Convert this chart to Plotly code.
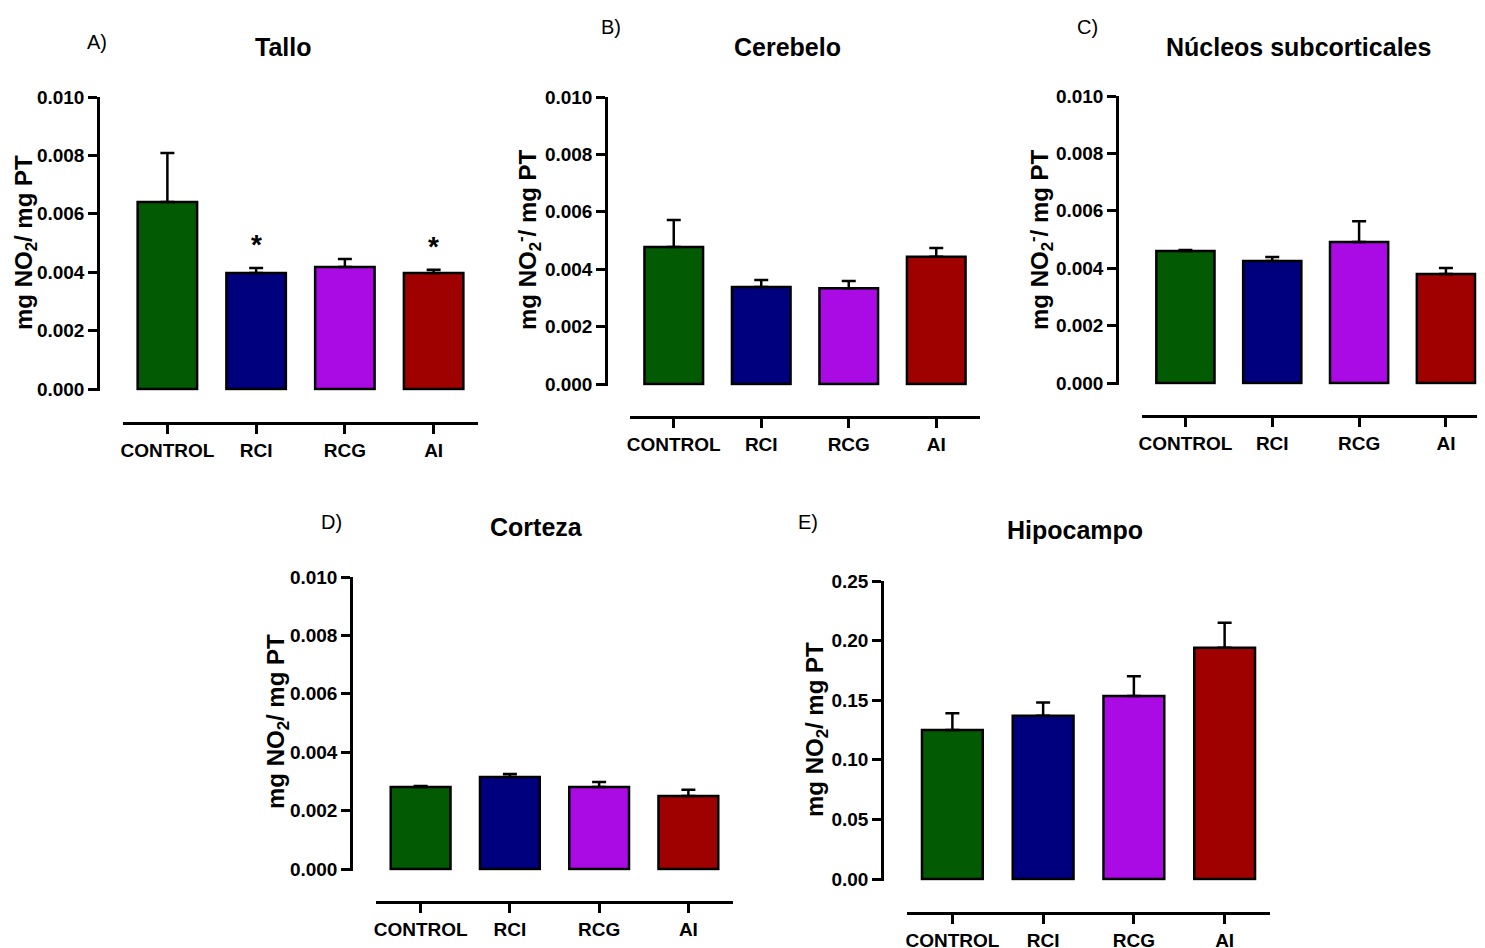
import plotly.graph_objects as go

W, H = 1485, 948
OFF = 8  # page body margin in the browser

categories = ["CONTROL", "RCI", "RCG", "AI"]
colors = ["#025A02", "#00007E", "#AA0AE3", "#9F0000"]

# Panel values (mean) and upper error (SEM)
tallo_mean = [0.00640, 0.00397, 0.00418, 0.00397]
tallo_err = [0.00168, 0.00017, 0.00027, 0.00011]
cerebelo_mean = [0.00477, 0.00338, 0.00334, 0.00443]
cerebelo_err = [0.00094, 0.00024, 0.00025, 0.00031]
nucleos_mean = [0.00460, 0.00425, 0.00491, 0.00380]
nucleos_err = [0.00003, 0.00014, 0.00073, 0.00021]
corteza_mean = [0.00281, 0.00315, 0.00281, 0.00250]
corteza_err = [0.00003, 0.00010, 0.00017, 0.00021]
hipocampo_mean = [0.125, 0.137, 0.1535, 0.194]
hipocampo_err = [0.014, 0.011, 0.0165, 0.021]

small_ticks = [0.000, 0.002, 0.004, 0.006, 0.008, 0.010]
large_ticks = [0.00, 0.05, 0.10, 0.15, 0.20, 0.25]

titles = ["Tallo", "Cerebelo", "Núcleos subcorticales", "Corteza", "Hipocampo"]
letters = ["A)", "B)", "C)", "D)", "E)"]
ytitle_plain = "mg NO<sub>2</sub>/ mg PT"
ytitle_ion = "mg NO<sub>2</sub><sup>-</sup>/ mg PT"

SANS = "Liberation Sans, Arial, sans-serif"

# layout geometry in pixels
panels = [
    dict(mean=tallo_mean, err=tallo_err, ticks=small_ticks, fmt=".3f",
         xdom=(123, 478), xrng=3.5, yaxis_x=98, ytop=97, yzero=389, xline=423,
         title=(283, 47), letter=(97, 42), ytitle=(25, 243), ytext=ytitle_plain,
         stars=[1, 3]),
    dict(mean=cerebelo_mean, err=cerebelo_err, ticks=small_ticks, fmt=".3f",
         xdom=(630, 980), xrng=3.5, yaxis_x=606, ytop=97, yzero=384, xline=417,
         title=(787, 47), letter=(611, 27), ytitle=(528, 240), ytext=ytitle_ion,
         stars=[]),
    dict(mean=nucleos_mean, err=nucleos_err, ticks=small_ticks, fmt=".3f",
         xdom=(1142, 1485), xrng=3.45, yaxis_x=1117, ytop=96, yzero=383, xline=416,
         title=(1298, 47), letter=(1087, 27), ytitle=(1040, 240), ytext=ytitle_ion,
         stars=[]),
    dict(mean=corteza_mean, err=corteza_err, ticks=small_ticks, fmt=".3f",
         xdom=(376, 733), xrng=3.5, yaxis_x=351, ytop=577, yzero=869, xline=902,
         title=(536, 527), letter=(331, 522), ytitle=(277, 722), ytext=ytitle_plain,
         stars=[]),
    dict(mean=hipocampo_mean, err=hipocampo_err, ticks=large_ticks, fmt=".2f",
         xdom=(907, 1270), xrng=3.5, yaxis_x=882, ytop=581, yzero=879, xline=913,
         title=(1075, 530), letter=(808, 522), ytitle=(816, 730), ytext=ytitle_plain,
         stars=[]),
]

def px(x):
    return min(1.0, (x - OFF) / W)

def py(y):
    return 1 - (y - OFF) / H

fig = go.Figure()
layout = dict(
    width=W, height=H, autosize=False, margin=dict(l=0, r=0, t=0, b=0, autoexpand=False),
    paper_bgcolor="white", plot_bgcolor="white",
    showlegend=False, bargap=0.33,
)
annotations = []

for i, p in enumerate(panels):
    n = "" if i == 0 else str(i + 1)
    xa, ya = "x" + n, "y" + n
    ymax = p["ticks"][-1]
    lo = -ymax * 0.006
    scale = (p["yzero"] - p["ytop"]) / ymax
    ybottom_px = p["yzero"] + (0 - lo) * scale

    fig.add_trace(go.Bar(
        x=categories, y=p["mean"], xaxis=xa, yaxis=ya, width=0.67,
        marker=dict(color=colors, line=dict(color="black", width=2.5)),
        error_y=dict(type="data", symmetric=False, array=p["err"],
                     arrayminus=[0] * len(p["err"]), color="black",
                     thickness=2.5, width=7),
        hoverinfo="x+y",
    ))

    layout["xaxis" + n] = dict(
        domain=[px(p["xdom"][0]), px(p["xdom"][1])],
        anchor="free", position=py(p["xline"]), automargin=False,
        range=[-0.5, p["xrng"]], type="category",
        showline=True, linecolor="black", linewidth=2.5,
        ticks="outside", ticklen=9, tickwidth=2.5, tickcolor="black",
        tickfont=dict(family=SANS, size=19, color="black", weight="bold"),
        showgrid=False, zeroline=False, fixedrange=True,
    )
    layout["yaxis" + n] = dict(
        domain=[py(ybottom_px), py(p["ytop"])],
        anchor="free", position=px(p["yaxis_x"]), automargin=False,
        range=[lo, ymax],
        tickvals=p["ticks"], tickformat=p["fmt"],
        showline=True, linecolor="black", linewidth=2.5,
        ticks="outside", ticklen=9, tickwidth=2.5, tickcolor="black",
        tickfont=dict(family=SANS, size=19, color="black", weight="bold"),
        showgrid=False, zeroline=False, fixedrange=True,
    )

    annotations.append(dict(
        text=titles[i], xref="paper", yref="paper",
        x=px(p["title"][0]), y=py(p["title"][1]),
        xanchor="center", yanchor="middle", showarrow=False,
        font=dict(family=SANS, size=25, color="black", weight="bold"),
    ))
    annotations.append(dict(
        text=letters[i], xref="paper", yref="paper",
        x=px(p["letter"][0]), y=py(p["letter"][1]),
        xanchor="center", yanchor="middle", showarrow=False,
        font=dict(family=SANS, size=20, color="black"),
    ))
    annotations.append(dict(
        text=p["ytext"], xref="paper", yref="paper",
        x=px(p["ytitle"][0]), y=py(p["ytitle"][1]),
        xanchor="center", yanchor="middle", showarrow=False, textangle=-90,
        font=dict(family=SANS, size=24, color="black", weight="bold"),
    ))
    for k in p["stars"]:
        annotations.append(dict(
            text="*", xref=xa, yref=ya,
            x=categories[k], y=p["mean"][k] + p["err"][k],
            xanchor="center", yanchor="bottom", yshift=6, showarrow=False,
            font=dict(family=SANS, size=28, color="black", weight="bold"),
        ))

layout["annotations"] = annotations
fig.update_layout(**layout)
fig.write_html("out.html")
